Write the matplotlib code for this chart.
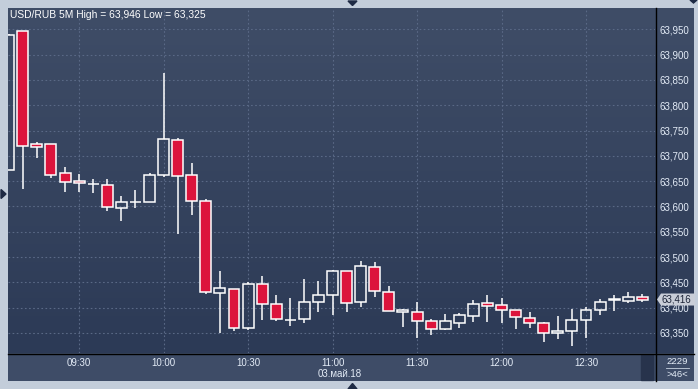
import numpy as np
import matplotlib.pyplot as plt
from matplotlib.patches import Polygon, Rectangle
from matplotlib.lines import Line2D
from matplotlib.colors import LinearSegmentedColormap
from matplotlib.transforms import blended_transform_factory

plt.rcParams['font.family'] = ['Liberation Sans', 'DejaVu Sans']

# 5-minute candles, 09:05 .. 12:50
opens = np.array([63.672, 63.946, 63.723, 63.723, 63.667, 63.650, 63.644, 63.642, 63.596, 63.608,
                  63.608, 63.663, 63.731, 63.663, 63.610, 63.428, 63.436, 63.359, 63.446, 63.407,
                  63.375, 63.377, 63.412, 63.424, 63.472, 63.412, 63.480, 63.430, 63.391, 63.392,
                  63.374, 63.358, 63.370, 63.383, 63.409, 63.405, 63.395, 63.379, 63.369, 63.349,
                  63.353, 63.375, 63.395, 63.415, 63.414, 63.420])
highs = np.array([63.940, 63.946, 63.727, 63.723, 63.678, 63.665, 63.654, 63.654, 63.621, 63.632,
                  63.667, 63.864, 63.735, 63.686, 63.615, 63.472, 63.436, 63.451, 63.462, 63.425,
                  63.419, 63.457, 63.453, 63.475, 63.472, 63.492, 63.490, 63.442, 63.398, 63.412,
                  63.377, 63.387, 63.389, 63.415, 63.425, 63.419, 63.395, 63.391, 63.372, 63.383,
                  63.397, 63.401, 63.417, 63.425, 63.431, 63.427])
lows = np.array([63.672, 63.635, 63.696, 63.657, 63.629, 63.629, 63.627, 63.590, 63.572, 63.597,
                 63.608, 63.659, 63.546, 63.584, 63.427, 63.350, 63.354, 63.356, 63.376, 63.373,
                 63.364, 63.370, 63.392, 63.386, 63.392, 63.402, 63.420, 63.393, 63.361, 63.339,
                 63.346, 63.356, 63.360, 63.372, 63.372, 63.370, 63.358, 63.360, 63.333, 63.337,
                 63.325, 63.339, 63.385, 63.393, 63.410, 63.412])
closes = np.array([63.939, 63.719, 63.718, 63.663, 63.648, 63.646, 63.644, 63.598, 63.608, 63.608,
                   63.663, 63.733, 63.661, 63.610, 63.430, 63.438, 63.359, 63.446, 63.408, 63.377,
                   63.375, 63.412, 63.424, 63.472, 63.410, 63.482, 63.432, 63.393, 63.395, 63.373,
                   63.357, 63.374, 63.385, 63.407, 63.403, 63.395, 63.381, 63.369, 63.349, 63.353,
                   63.375, 63.395, 63.412, 63.417, 63.420, 63.416])

tick_pos = [5, 11, 17, 23, 29, 35, 41]
tick_labels = ['09:30', '10:00', '10:30', '11:00', '11:30', '12:00', '12:30']
y_ticks = [63.35, 63.40, 63.45, 63.50, 63.55, 63.60, 63.65, 63.70, 63.75, 63.80, 63.85, 63.90, 63.95]
date_label = '03.май.18'
symbol = 'USD/RUB 5M'
bars_count = '2229'
visible_count = '>46<'

def comma(v):
    return f'{v:.3f}'.replace('.', ',')

W, H = 698, 389
fig = plt.figure(figsize=(W / 100, H / 100), dpi=100, facecolor='#c3cdda')

def fr(x0, y0, x1, y1):
    return [x0 / W, 1 - y1 / H, (x1 - x0) / W, (y1 - y0) / H]

def fp(x, y):
    return (x / W, 1 - y / H)

grad = np.linspace(0, 1, 256).reshape(-1, 1)
cmap = LinearSegmentedColormap.from_list('bg', ['#3f4d67', '#2c3a56'])

ax = fig.add_axes(fr(8, 8, 655, 353), zorder=2)
side = fig.add_axes(fr(655, 8, 694, 353), zorder=1)
foot = fig.add_axes(fr(8, 353, 694, 381), zorder=1)

for a in (ax, side):
    a.imshow(grad, extent=[0, 1, 0, 1], transform=a.transAxes, aspect='auto', cmap=cmap, zorder=0)
for a in (side, foot):
    a.set_xticks([]); a.set_yticks([])
    for s in a.spines.values():
        s.set_visible(False)
foot.set_facecolor('#3e4c67')
for s in ax.spines.values():
    s.set_visible(False)

# candles
x = np.arange(len(opens))
up = closes >= opens
body_lo = np.minimum(opens, closes)
body_hi = np.maximum(opens, closes)
ax.vlines(x, body_hi, highs, color='white', lw=1.1, zorder=3)
ax.vlines(x, lows, body_lo, color='white', lw=1.1, zorder=3)
ax.bar(x, body_hi - body_lo, bottom=body_lo, width=0.78,
       color=['none' if u else '#dc143c' for u in up],
       edgecolor='white', lw=1.1, zorder=4)

ax.set_xlim(-0.05, 45.9)
ax.set_ylim(63.3103, 63.9921)
ax.set_axisbelow(True)
ax.grid(True, color='#5a6986', lw=0.8, linestyle=(0, (1.5, 2.2)))

ax.yaxis.tick_right()
ax.set_yticks(y_ticks)
ax.set_yticklabels([comma(v) for v in y_ticks])
ax.set_xticks(tick_pos)
ax.set_xticklabels(tick_labels)
ax.tick_params(axis='y', length=0, pad=3, labelsize=7, labelcolor='#e4ecf7')
ax.tick_params(axis='x', length=0, pad=3.6, labelsize=7, labelcolor='#e4ecf7')

# title
fig.text(*fp(10, 14.5), f'{symbol} High = {comma(highs.max())} Low = {comma(lows.min())}',
         color='white', fontsize=7.4, va='center', ha='left')
fig.text(*fp(318, 374), date_label, color='#e4ecf7', fontsize=7, va='center', ha='left')

# frame lines
fig.add_artist(Line2D([655.5 / W, 655.5 / W], [1 - 8 / H, 1 - 381 / H], color='black', lw=1, zorder=6))
fig.add_artist(Line2D([8 / W, 694 / W], [1 - 353.5 / H, 1 - 353.5 / H], color='black', lw=1, zorder=6))
fig.add_artist(Rectangle(fp(641, 380), 12 / W, 25 / H, color='#27334c', zorder=1.5))

# bar counters
fig.text(*fp(677, 361.5), bars_count, color='#e4ecf7', fontsize=6.8, ha='center', va='center', zorder=7)
fig.add_artist(Line2D([666 / W, 689 / W], [1 - 368 / H, 1 - 368 / H], color='#c8d2e0', lw=0.6, zorder=7))
fig.text(*fp(677, 374.5), visible_count, color='#e4ecf7', fontsize=6.8, ha='center', va='center', zorder=7)

# last price marker
last = closes[-1]
tr = blended_transform_factory(fig.transFigure, ax.transData)
dy = 6 / 506
fig.add_artist(Polygon([(657 / W, last), (661 / W, last + dy), (695 / W, last + dy),
                        (695 / W, last - dy), (661 / W, last - dy)],
                       closed=True, transform=tr, facecolor='#c9ced8', edgecolor='none', zorder=8))
fig.text(661 / W, last, comma(last), transform=tr, color='#1c2438', fontsize=7,
         va='center', ha='left', zorder=9)

# small navigation arrows
nav = '#1e2a44'
fig.add_artist(Polygon([fp(348, 1), fp(357, 1), fp(352.5, 5.5)], transform=fig.transFigure, color=nav, zorder=5))
fig.add_artist(Polygon([fp(348, 389), fp(357, 389), fp(352.5, 383.5)], transform=fig.transFigure, color=nav, zorder=5))
fig.add_artist(Polygon([fp(1, 189.5), fp(1, 198.5), fp(6, 194)], transform=fig.transFigure, color=nav, zorder=5))
fig.add_artist(Polygon([fp(690, 0), fp(697, 0), fp(693.5, 3)], transform=fig.transFigure, color=nav, zorder=5))

fig.savefig('out.png', dpi=100, facecolor=fig.get_facecolor())
